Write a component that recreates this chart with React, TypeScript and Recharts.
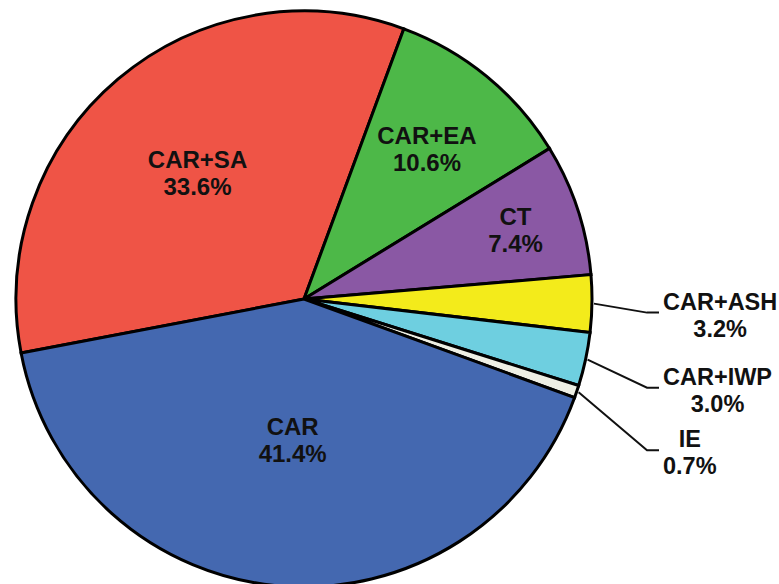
import { PieChart, Pie, Cell } from 'recharts'

const names = ['CAR+SA', 'CAR+EA', 'CT', 'CAR+ASH', 'CAR+IWP', 'IE', 'CAR']
const shares = [33.6, 10.6, 7.4, 3.2, 3.0, 0.7, 41.4]
const colors = ['#EF5446', '#4DB848', '#8A58A4', '#F3EB1B', '#6ECFE0', '#EEEFE4', '#4468B0']

const data = names.map((name, i) => ({ name, value: shares[i] }))

// how each label sits: inside at a fraction of the radius, or outside with a leader line
const LABEL_LAYOUT = [
  { inside: true, r: 0.572 },
  { inside: true, r: 0.673 },
  { inside: true, r: 0.773 },
  { inside: false, drop: 9 },
  { inside: false, drop: 28 },
  { inside: false, drop: 58 },
  { inside: true, r: 0.49 },
]

const FONT = 'Arial, "Liberation Sans", sans-serif'
const RAD = Math.PI / 180

function renderLabel(props: any) {
  const { cx, cy, midAngle, outerRadius, index, name, value } = props
  const layout = LABEL_LAYOUT[index]
  const pct = `${Number(value).toFixed(1)}%`
  if (layout.inside) {
    const r = outerRadius * (layout.r as number)
    const x = cx + r * Math.cos(-midAngle * RAD)
    const y = cy + r * Math.sin(-midAngle * RAD)
    return (
      <text x={x} y={y} textAnchor="middle" fontFamily={FONT} fontSize={24} fontWeight="bold" fill="#111">
        <tspan x={x} y={y - 13.5 + 8.6}>{name}</tspan>
        <tspan x={x} y={y + 13.5 + 8.6}>{pct}</tspan>
      </text>
    )
  }
  const sx = cx + (outerRadius + 2) * Math.cos(-midAngle * RAD)
  const sy = cy + (outerRadius + 2) * Math.sin(-midAngle * RAD)
  const ex = cx + outerRadius + 55
  const ey = sy + (layout.drop as number)
  const lx = ex + 12
  return (
    <g>
      <polyline points={`${sx},${sy} ${ex},${ey} ${lx},${ey}`} fill="none" stroke="#111" strokeWidth={2} />
      <foreignObject x={lx + 4} y={ey - 24} width={130} height={70}>
        <div
          style={{
            display: 'inline-block',
            textAlign: 'center',
            fontFamily: FONT,
            fontSize: 23.5,
            fontWeight: 'bold',
            lineHeight: '27px',
            color: '#111',
            whiteSpace: 'nowrap',
          }}
        >
          {name}
          <br />
          {pct}
        </div>
      </foreignObject>
    </g>
  )
}

export default function App() {
  return (
    <div style={{ position: 'absolute', left: 0, top: 0, background: '#fff' }}>
      <PieChart width={779} height={584}>
        <Pie
          data={data}
          dataKey="value"
          nameKey="name"
          cx={299}
          cy={294}
          outerRadius={288}
          startAngle={190.8}
          endAngle={-169.2}
          stroke="#000"
          strokeWidth={3}
          label={renderLabel}
          labelLine={false}
          isAnimationActive={false}
        >
          {data.map((d, i) => (
            <Cell key={d.name} fill={colors[i]} />
          ))}
        </Pie>
      </PieChart>
    </div>
  )
}
